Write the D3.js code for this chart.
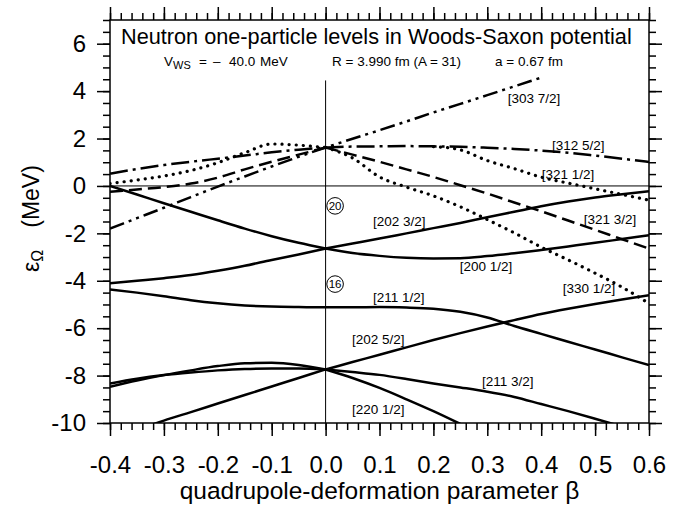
<!DOCTYPE html>
<html><head><meta charset="utf-8">
<script src="https://cdn.jsdelivr.net/npm/d3@7"></script>
<style>
body{margin:0;background:#fff}
svg{display:block}
text{font-family:"Liberation Sans",Arial,Helvetica,sans-serif;fill:#000}
</style>
</head><body>
<svg id="c" width="682" height="507"></svg>
<script>
// ---------------- DATA ----------------
const betaLeft  = [-0.4,-0.35,-0.3,-0.25,-0.2,-0.15,-0.1,-0.05,0];
const betaRight = [0,0.05,0.1,0.15,0.2,0.25,0.3,0.35,0.4,0.45,0.5,0.55,0.6];
const betaAll   = [-0.4,-0.35,-0.3,-0.25,-0.2,-0.15,-0.1,-0.05,0,0.05,0.1,0.15,0.2,0.25,0.3,0.35,0.4,0.45,0.5,0.55,0.6];

// solid levels
const lvl200h_L = [0,-0.36,-0.73,-1.09,-1.45,-1.80,-2.12,-2.40,-2.64];
const lvl200h_R = [-2.64,-2.83,-2.95,-3.03,-3.06,-3.05,-2.96,-2.84,-2.70,-2.55,-2.40,-2.24,-2.08];
const lvl2023_L = [-4.11,-4.00,-3.89,-3.76,-3.58,-3.37,-3.12,-2.89,-2.64];
const lvl2023_R = [-2.64,-2.43,-2.22,-2.00,-1.78,-1.56,-1.32,-1.09,-0.86,-0.66,-0.49,-0.35,-0.22];
const lvl2111_L = [-4.37,-4.50,-4.65,-4.82,-4.95,-5.04,-5.09,-5.11,-5.12];
const lvl2111_R = [-5.12,-5.12,-5.11,-5.13,-5.18,-5.31,-5.55,-5.91,-6.24,-6.57,-6.90,-7.23,-7.56];
const lvl2025_L = [null,-10.3,-9.90,-9.54,-9.18,-8.82,-8.46,-8.10,-7.74];
const lvl2025_R = [-7.74,-7.43,-7.12,-6.81,-6.50,-6.21,-5.93,-5.66,-5.40,-5.18,-4.98,-4.79,-4.61];
const lvl2201_R = [-7.74,-8.10,-8.52,-9.00,-9.50,-10.04,null,null,null,null,null,null,null];
const lvl2113_R = [-7.74,-7.85,-7.97,-8.14,-8.33,-8.50,-8.68,-8.90,-9.20,-9.50,-9.82,-10.15,null];
const lvlObA_L  = [-8.47,-8.21,-7.98,-7.78,-7.60,-7.48,-7.46,-7.55,-7.74];
const lvlObB_L  = [-8.33,-8.13,-7.98,-7.87,-7.78,-7.72,-7.70,-7.70,-7.74];
// f7/2 - p3/2 levels
const lvl3037   = [-1.80,-1.36,-0.92,-0.47,-0.03,0.40,0.82,1.23,1.62,1.99,2.35,2.72,3.10,3.46,3.83,4.20,4.57,null,null,null,null];
const lvl3125_L = [0.52,0.71,0.88,1.02,1.15,1.28,1.42,1.53,1.62];
const lvl3125_R = [1.62,1.66,1.67,1.68,1.67,1.65,1.61,1.56,1.49,1.40,1.28,1.15,1.01];
const lvl3213_L = [-0.25,-0.15,-0.05,0.10,0.35,0.70,1.02,1.32,1.62];
const lvl3213_R = [1.62,1.32,1.02,0.70,0.38,0.03,-0.32,-0.70,-1.07,-1.46,-1.85,-2.25,-2.64];
const lvlDot_L  = [0.10,0.25,0.42,0.65,0.98,1.40,1.77,1.72,1.62];
const lvl3301_R = [1.62,1.18,0.38,-0.05,-0.42,-0.88,-1.42,-1.98,-2.58,-3.12,-3.68,-4.27,-4.96];
const lvl3211_R = [null,null,null,null,1.66,1.52,1.07,0.73,0.37,0.12,-0.12,-0.36,-0.60];

// tick labels
const xTickLabels = [-0.4,-0.3,-0.2,-0.1,0.0,0.1,0.2,0.3,0.4,0.5,0.6];
const yTickLabels = [-10,-8,-6,-4,-2,0,2,4,6];

// level labels (Nilsson quantum numbers) and their anchor (beta, energy)
const labelTexts = ["[303 7/2]","[312 5/2]","[321 1/2]","[321 3/2]","[202 3/2]","[200 1/2]","[330 1/2]","[211 1/2]","[202 5/2]","[211 3/2]","[220 1/2]"];
const labelBeta  = [0.338,0.420,0.401,0.479,0.088,0.249,0.440,0.088,0.049,0.290,0.049];
const labelE     = [3.49,1.50,0.28,-1.61,-1.70,-3.59,-4.51,-4.90,-6.67,-8.44,-9.62];
const magicNums  = ["20","16"];
const magicE     = [-0.84,-4.14];

// ---------------- CHART ----------------
const svg = d3.select("#c");
const L = 110, R = 649, T = 20, B = 423;
const x = d3.scaleLinear().domain([-0.4,0.6]).range([L,R]);
const y = d3.scaleLinear().domain([-10,7]).range([B,T]);
const FONT = '"Liberation Sans",Arial,Helvetica,sans-serif';

svg.append("rect").attr("width",682).attr("height",507).attr("fill","#fff");

svg.append("defs").append("clipPath").attr("id","clip")
  .append("rect").attr("x",L).attr("y",T).attr("width",R-L).attr("height",B-T);

const styles = {
  solid:      {w:2.5, dash:null, cap:"butt"},
  dashed:     {w:2.5, dash:"13,6", cap:"butt"},
  dotted:     {w:3.2, dash:"0.1,7", cap:"round"},
  dashdot:    {w:2.5, dash:"18,5,3,5", cap:"butt"},
  dashdotdot: {w:2.5, dash:"15,5,3,5,3,5", cap:"butt"}
};

const series = [
  [betaLeft,lvl200h_L,"solid"],[betaRight,lvl200h_R,"solid"],
  [betaLeft,lvl2023_L,"solid"],[betaRight,lvl2023_R,"solid"],
  [betaLeft,lvl2111_L,"solid"],[betaRight,lvl2111_R,"solid"],
  [betaLeft,lvl2025_L,"solid"],[betaRight,lvl2025_R,"solid"],
  [betaRight,lvl2201_R,"solid"],[betaRight,lvl2113_R,"solid"],
  [betaLeft,lvlObA_L,"solid"],[betaLeft,lvlObB_L,"solid"],
  [betaAll,lvl3037,"dashdotdot"],
  [betaLeft,lvl3125_L,"dashdot"],[betaRight,lvl3125_R,"dashdot"],
  [betaLeft,lvl3213_L,"dashed"],[betaRight,lvl3213_R,"dashed"],
  [betaLeft,lvlDot_L,"dotted"],[betaRight,lvl3301_R,"dotted"],[betaRight,lvl3211_R,"dotted"]
];

// reference lines
svg.append("line").attr("x1",L).attr("x2",R).attr("y1",y(0)).attr("y2",y(0))
  .attr("stroke","#000").attr("stroke-width",1);
svg.append("line").attr("x1",x(0)).attr("x2",x(0)).attr("y1",y(4.45)).attr("y2",y(-10))
  .attr("stroke","#000").attr("stroke-width",1);

const line = d3.line()
  .defined(d => d[1] !== null)
  .x(d => x(d[0])).y(d => y(d[1]))
  .curve(d3.curveMonotoneX);

const plot = svg.append("g").attr("clip-path","url(#clip)");
series.forEach(([bs, es, st]) => {
  const s = styles[st];
  plot.append("path")
    .attr("d", line(bs.map((b,i) => [b, es[i]])))
    .attr("fill","none").attr("stroke","#000")
    .attr("stroke-width", s.w)
    .attr("stroke-linecap", s.cap)
    .attr("stroke-linejoin","round")
    .attr("stroke-dasharray", s.dash);
});

// labels
labelTexts.forEach((t,i) => {
  svg.append("text").attr("x", x(labelBeta[i])).attr("y", y(labelE[i]))
    .attr("font-size","13.5px").text(t);
});
magicNums.forEach((t,i) => {
  const cx = x(0.0176), cy = y(magicE[i]);
  svg.append("circle").attr("cx",cx).attr("cy",cy).attr("r",8.3)
    .attr("fill","#fff").attr("stroke","#000").attr("stroke-width",1);
  svg.append("text").attr("x",cx).attr("y",cy+4).attr("text-anchor","middle")
    .attr("font-size","11.5px").text(t);
});

// axes
const fmtX = d => d.toFixed(1);
const fmtY = d => String(d);
const xMinor = d3.range(-0.4, 0.6001, 0.02);
const yMinor = d3.range(-10, 7.0001, 0.5);

function styleAxis(g){
  g.select(".domain").remove();
  g.selectAll(".tick line").attr("stroke","#000").attr("stroke-width",1.5);
  g.selectAll(".tick text").attr("font-size","24px").attr("fill","#000")
    .attr("font-family",FONT);
}
svg.append("g").attr("transform",`translate(0,${B})`)
  .call(d3.axisBottom(x).tickValues(xMinor).tickSize(7).tickFormat("")).call(styleAxis);
svg.append("g").attr("transform",`translate(0,${B})`)
  .call(d3.axisBottom(x).tickValues(xTickLabels).tickSize(13).tickPadding(20).tickFormat(fmtX)).call(styleAxis);
svg.append("g").attr("transform",`translate(0,${T})`)
  .call(d3.axisTop(x).tickValues(xMinor).tickSize(7).tickFormat("")).call(styleAxis);
svg.append("g").attr("transform",`translate(0,${T})`)
  .call(d3.axisTop(x).tickValues(xTickLabels).tickSize(13).tickFormat("")).call(styleAxis);
svg.append("g").attr("transform",`translate(${L},0)`)
  .call(d3.axisLeft(y).tickValues(yMinor).tickSize(7).tickFormat("")).call(styleAxis);
svg.append("g").attr("transform",`translate(${L},0)`)
  .call(d3.axisLeft(y).tickValues(yTickLabels).tickSize(13).tickPadding(11).tickFormat(fmtY)).call(styleAxis);
svg.append("g").attr("transform",`translate(${R},0)`)
  .call(d3.axisRight(y).tickValues(yMinor).tickSize(7).tickFormat("")).call(styleAxis);
svg.append("g").attr("transform",`translate(${R},0)`)
  .call(d3.axisRight(y).tickValues(yTickLabels).tickSize(13).tickFormat("")).call(styleAxis);

// frame
svg.append("rect").attr("x",L).attr("y",T).attr("width",R-L).attr("height",B-T)
  .attr("fill","none").attr("stroke","#000").attr("stroke-width",1.5);

// title and parameters
svg.append("text").attr("x",121).attr("y",43.5).attr("font-size","21.7px")
  .text("Neutron one-particle levels in Woods-Saxon potential");
const sub = svg.append("text").attr("y",65.5).attr("font-size","13.5px");
sub.append("tspan").attr("x",164).text("V");
sub.append("tspan").attr("font-size","11px").attr("dy",3).text("WS");
sub.append("tspan").attr("dy",-3).attr("x",199).text("=");
sub.append("tspan").attr("x",213).text("\u2013");
sub.append("tspan").attr("x",229).text("40.0");
sub.append("tspan").attr("x",260).text("MeV");
svg.append("text").attr("x",332).attr("y",65.5).attr("font-size","13.5px").text("R = 3.990 fm (A = 31)");
svg.append("text").attr("x",495).attr("y",65.5).attr("font-size","13.5px").text("a = 0.67 fm");

// axis titles
svg.append("text").attr("x",(L+R)/2).attr("y",499).attr("text-anchor","middle")
  .attr("font-size","24.5px").text("quadrupole-deformation parameter \u03b2");
const yt = svg.append("text").attr("transform","translate(39,272) rotate(-90)")
  .attr("font-size","23px");
yt.append("tspan").text("\u03b5");
yt.append("tspan").attr("font-size","16px").attr("dy",4).text("\u03a9");
yt.append("tspan").attr("dy",-4).attr("dx",22).text("(MeV)");
</script>
</body></html>
